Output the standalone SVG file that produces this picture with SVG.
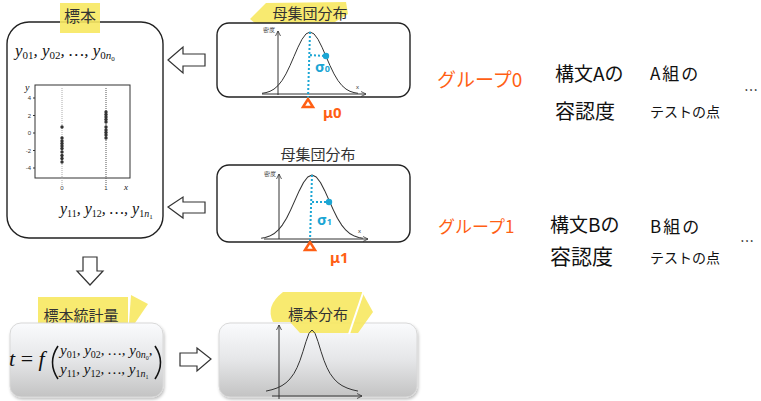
<svg xmlns="http://www.w3.org/2000/svg" width="761" height="401" viewBox="0 0 761 401">
<style>
.box{fill:#fff;stroke:#222;stroke-width:1.4}
.gbox{fill:url(#g);stroke:#d8d8d8;stroke-width:1}
.hl{fill:#f7e860;opacity:0.9}
.jp{font-family:"Noto Sans CJK JP","Noto Sans",sans-serif;fill:#333}
.hw{font-family:"Noto Sans CJK JP","Noto Sans",sans-serif;fill:#111}
.or{fill:#ff5f14}
.math{font-family:"Liberation Serif","DejaVu Serif",serif;font-style:italic;fill:#111}
.up{font-style:normal}
.curve{fill:none;stroke:#333;stroke-width:1;stroke-linejoin:round}
.ax{stroke:#333;stroke-width:1;fill:none}
.bd{stroke:#1ca6d4;stroke-width:2;stroke-dasharray:2 2;fill:none}
.bt{font-family:"Noto Sans","DejaVu Sans",sans-serif;font-weight:bold;fill:#1ca6d4}
.ot{font-family:"Noto Sans","DejaVu Sans",sans-serif;font-weight:bold;fill:#ff5f14}
.tri{fill:none;stroke:#ff5f14;stroke-width:2.5;stroke-linejoin:miter}
.arr{fill:#fff;stroke:#333;stroke-width:1.2}
.sm{font-family:"Liberation Sans",sans-serif;font-size:6px;fill:#333}
.dot{fill:#333}
</style>
<defs>
<linearGradient id="g" x1="0" y1="0" x2="0" y2="1">
<stop offset="0" stop-color="#fafbfd"/>
<stop offset="0.5" stop-color="#e5e6e8"/>
<stop offset="1" stop-color="#c3c3c3"/>
</linearGradient>
<filter id="sh" x="-10%" y="-10%" width="120%" height="130%"><feDropShadow dx="1" dy="2" stdDeviation="1.5" flood-color="#000" flood-opacity="0.25"/></filter>
<path id="nc" d="M-48,61.3 L-44,60.6 L-40,59.3 L-36,57.1 L-32,53.6 L-28,48.6 L-24,41.9 L-20,33.6 L-16,24.4 L-12,15.2 L-8,7.3 L-4,1.9 L0,0 L4,1.9 L8,7.3 L12,15.2 L16,24.4 L20,33.6 L24,41.9 L28,48.6 L32,53.6 L36,57.1 L40,59.3 L44,60.6 L48,61.3"/>
<marker id="ah" markerWidth="6" markerHeight="6" refX="5" refY="3" orient="auto" markerUnits="userSpaceOnUse"><path d="M0,0.5 L5,3 L0,5.5" fill="none" stroke="#333" stroke-width="0.8"/></marker>
</defs>

<g id="sample">
<rect class="box" x="7" y="22" width="156" height="216" rx="22"/>
<rect class="hl" x="60" y="3" width="40" height="30"/>
<text class="jp" x="80" y="22" font-size="16" text-anchor="middle">標本</text>
<text class="math" x="15" y="56" font-size="17">y<tspan class="up" font-size="11" dy="3">01</tspan><tspan dy="-3">, y</tspan><tspan class="up" font-size="11" dy="3">02</tspan><tspan dy="-3">, …, y</tspan><tspan class="up" font-size="11" dy="3">0</tspan><tspan font-size="11">n</tspan><tspan class="up" font-size="7" dy="2">0</tspan></text>
<text class="math" x="60" y="214" font-size="16">y<tspan class="up" font-size="10" dy="3">11</tspan><tspan dy="-3">, y</tspan><tspan class="up" font-size="10" dy="3">12</tspan><tspan dy="-3">, …, y</tspan><tspan class="up" font-size="10" dy="3">1</tspan><tspan font-size="10">n</tspan><tspan class="up" font-size="7" dy="2">1</tspan></text>
<g id="scatter">
<rect x="35" y="85" width="95" height="93" fill="none" stroke="#333" stroke-width="1"/>
<line x1="62" y1="88" x2="62" y2="186" stroke="#aaa" stroke-width="1" stroke-dasharray="1 1"/>
<line x1="106" y1="88" x2="106" y2="186" stroke="#555" stroke-width="1" stroke-dasharray="1 1"/>
<g class="ax"><line x1="33" y1="98" x2="35" y2="98"/><line x1="33" y1="115.5" x2="35" y2="115.5"/><line x1="33" y1="133" x2="35" y2="133"/><line x1="33" y1="150.5" x2="35" y2="150.5"/><line x1="33" y1="168" x2="35" y2="168"/></g>
<text class="sm" x="31" y="100" text-anchor="end">4</text>
<text class="sm" x="31" y="117.5" text-anchor="end">2</text>
<text class="sm" x="31" y="135" text-anchor="end">0</text>
<text class="sm" x="31" y="152.5" text-anchor="end">-2</text>
<text class="sm" x="31" y="170" text-anchor="end">-4</text>
<text class="math" x="25" y="91" font-size="10">y</text>
<text class="sm" x="62" y="190" text-anchor="middle">0</text>
<text class="sm" x="106" y="190" text-anchor="middle">1</text>
<text class="math" x="124" y="190" font-size="9">x</text>
<g class="dot">
<circle cx="62" cy="127" r="1.7"/><circle cx="62" cy="138" r="1.7"/><circle cx="62" cy="141" r="1.7"/><circle cx="62" cy="143.5" r="1.7"/><circle cx="62" cy="146" r="1.7"/><circle cx="62" cy="148.5" r="1.7"/><circle cx="62" cy="152" r="1.7"/><circle cx="62" cy="155.5" r="1.7"/><circle cx="62" cy="158.5" r="1.7"/><circle cx="62" cy="162" r="1.7"/>
<circle cx="106" cy="112" r="1.7"/><circle cx="106" cy="114.5" r="1.7"/><circle cx="106" cy="117" r="1.7"/><circle cx="106" cy="119.5" r="1.7"/><circle cx="106" cy="122" r="1.7"/><circle cx="106" cy="127" r="1.7"/><circle cx="106" cy="130" r="1.7"/><circle cx="106" cy="132.5" r="1.7"/><circle cx="106" cy="135" r="1.7"/><circle cx="106" cy="138" r="1.7"/>
</g>
</g>
</g>

<g id="pop0">
<polygon class="hl" points="250,19 266,3 346,2 348,14 335,22 256,24"/>
<text class="jp" x="310" y="19" font-size="15" text-anchor="middle">母集団分布</text>
<rect class="box" x="217" y="23" width="193" height="74" rx="12"/>
<line class="ax" x1="278" y1="95" x2="278" y2="31" marker-end="url(#ah)"/>
<line class="ax" x1="262" y1="94" x2="366" y2="94" marker-end="url(#ah)"/>
<text class="sm" x="263" y="32" font-size="5">密度</text>
<text class="sm" x="356" y="89">x</text>
<use href="#nc" class="curve" transform="translate(310,32)"/>
<path class="bd" d="M310,32 L308,98 M310,55 L325,56"/>
<circle cx="326" cy="56" r="3.2" fill="#1ca6d4"/>
<text class="bt" x="315" y="72" font-size="15">σ<tspan font-size="9">0</tspan></text>
<polygon class="tri" points="303,107 308,99 313,107"/>
<text class="ot" x="323" y="118" font-size="15">μ0</text>
</g>

<g id="pop1">
<text class="jp" x="318" y="160" font-size="15" text-anchor="middle">母集団分布</text>
<rect class="box" x="217" y="165" width="193" height="77" rx="12"/>
<line class="ax" x1="279" y1="239" x2="279" y2="174" marker-end="url(#ah)"/>
<line class="ax" x1="264" y1="239" x2="368" y2="239" marker-end="url(#ah)"/>
<text class="sm" x="264" y="176" font-size="5">密度</text>
<text class="sm" x="358" y="233">x</text>
<use href="#nc" class="curve" transform="translate(312,175) scale(1.06,1.03)"/>
<path class="bd" d="M312,175 L310,241 M312,202 L327,202"/>
<circle cx="329" cy="202" r="3.2" fill="#1ca6d4"/>
<text class="bt" x="317" y="225" font-size="15">σ<tspan font-size="9">1</tspan></text>
<polygon class="tri" points="305,250 310,242 315,250"/>
<text class="ot" x="330" y="263" font-size="15">μ1</text>
</g>

<g id="stat">
<rect class="hl" x="38" y="297" width="90" height="31"/>
<polygon class="hl" points="131,295 148,304 135,323 129,323"/>
<text class="jp" x="81" y="321" font-size="15" text-anchor="middle">標本統計量</text>
<rect class="gbox" x="10" y="323" width="153" height="74" rx="11" filter="url(#sh)"/>
<text class="math" x="9" y="366" font-size="22">t<tspan class="up"> = </tspan>f</text>
<path d="M58,346 Q47,362.5 58,379" fill="none" stroke="#111" stroke-width="1.6"/>
<path d="M155,346 Q166,362.5 155,379" fill="none" stroke="#111" stroke-width="1.6"/>
<text class="math" x="60" y="355" font-size="15">y<tspan class="up" font-size="10" dy="3">01</tspan><tspan dy="-3">, y</tspan><tspan class="up" font-size="10" dy="3">02</tspan><tspan dy="-3">, …, y</tspan><tspan class="up" font-size="10" dy="3">0</tspan><tspan font-size="10">n</tspan><tspan class="up" font-size="6" dy="2">0</tspan><tspan dy="-5">,</tspan></text>
<text class="math" x="60" y="374" font-size="15">y<tspan class="up" font-size="10" dy="3">11</tspan><tspan dy="-3">, y</tspan><tspan class="up" font-size="10" dy="3">12</tspan><tspan dy="-3">, …, y</tspan><tspan class="up" font-size="10" dy="3">1</tspan><tspan font-size="10">n</tspan><tspan class="up" font-size="6" dy="2">1</tspan></text>
</g>

<g id="sampdist">
<rect class="gbox" x="219" y="323" width="198" height="74" rx="11" filter="url(#sh)"/>
<path class="hl" d="M283,292 L362,292 L373,312 L358,333 L300,333 L290,322 L273,322 Q265,306 283,292 Z"/>
<line x1="364" y1="290" x2="349" y2="334" stroke="#fff" stroke-width="2"/>
<text class="jp" x="318" y="320" font-size="15" text-anchor="middle">標本分布</text>
<line class="ax" x1="279" y1="399" x2="279" y2="325" marker-end="url(#ah)"/>
<line class="ax" x1="272" y1="396" x2="362" y2="396" marker-end="url(#ah)"/>
<path class="curve" d="M266,391.1 L272,389.7 L277,388 L282,385.6 L286,382.8 L290,378.9 L294,373.4 L297,367.7 L300,360.4 L303,351.4 L306,341.6 L309,333.3 L312,330 L315,333.3 L318,341.6 L321,351.4 L324,360.4 L327,367.7 L330,373.4 L334,378.9 L338,382.8 L342,385.6 L347,388 L352,389.7 L358,391.1"/>
</g>

<g id="connectors">
<polygon class="arr" points="168,60 183,47 183,54 205,54 205,66 183,66 183,73"/>
<polygon class="arr" points="168,207 183,197 183,202 205,202 205,213 183,213 183,218"/>
<polygon class="arr" points="83,257 97,257 97,271 103,271 90,285 77,271 83,271"/>
<polygon class="arr" points="180,353 197,353 197,348 211,359 197,371 197,366 180,366"/>
</g>

<g id="group0">
<text class="hw or" x="437" y="87" font-size="19">グループ0</text>
<text class="hw" x="555" y="81" font-size="19">構文Aの</text>
<text class="hw" x="555" y="119" font-size="20">容認度</text>
<text class="hw" x="650" y="80" font-size="17" letter-spacing="2">A組の</text>
<text class="hw" x="650" y="117" font-size="14">テストの点</text>
<text class="hw" x="744" y="95" font-size="14">…</text>
</g>

<g id="group1">
<text class="hw or" x="438" y="233" font-size="17">グループ1</text>
<text class="hw" x="550" y="232" font-size="19">構文Bの</text>
<text class="hw" x="550" y="264" font-size="21">容認度</text>
<text class="hw" x="650" y="233" font-size="17" letter-spacing="2">B組の</text>
<text class="hw" x="650" y="263" font-size="14">テストの点</text>
<text class="hw" x="740" y="246" font-size="14">…</text>
</g>
</svg>
